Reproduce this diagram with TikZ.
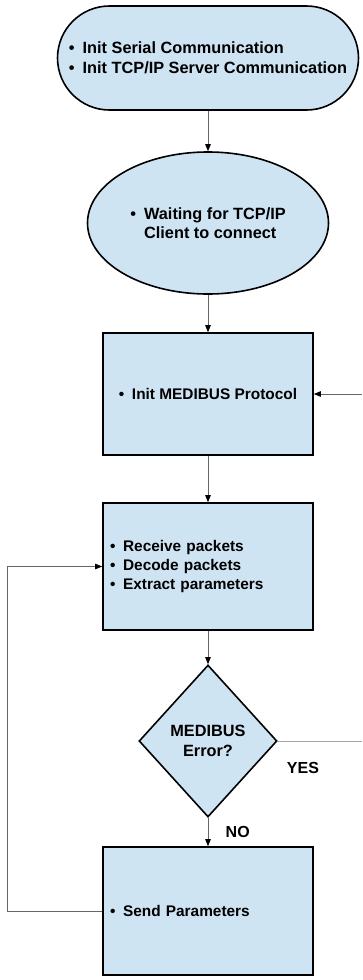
\documentclass[tikz,border=0pt]{standalone}
\usepackage{fontspec}
\setmainfont{Liberation Sans}
\usetikzlibrary{shapes.geometric,arrows.meta}
\definecolor{boxblue}{RGB}{207,228,243}
\newcommand{\bul}{\makebox[0.85em][l]{\textbullet}}

\begin{document}
\begin{tikzpicture}[x=1pt, y=-1pt,
  blk/.style={draw=black, line width=1.6pt, fill=boxblue, font=\fontsize{16.3}{19.5}\selectfont\bfseries, align=left},
  proc/.style={blk, rectangle, minimum width=210pt, font=\fontsize{15.4}{18.7}\selectfont\bfseries},
  flow/.style={draw=gray!80!black, line width=0.8pt, -{Triangle[length=7pt,width=5.5pt,color=black]}},
  lbl/.style={font=\fontsize{16}{19}\selectfont\bfseries}]
\useasboundingbox (0,0) rectangle (362,980);

\node[blk, rounded corners=52pt, minimum width=301pt, minimum height=104pt] (start) at (208,58)
  {\bul Init Serial Communication\\\bul Init TCP/IP Server Communication};
\node[blk, ellipse, minimum width=241pt, minimum height=142pt] (wait) at (208,223)
  {\bul Waiting for TCP/IP\\\hspace*{0.85em}Client to connect};
\node[proc, minimum height=122pt] (init) at (208,394) {\bul Init MEDIBUS Protocol};
\node[proc, minimum height=127pt, text width=196pt] (recv) at (208,566.5)
  {\bul Receive packets\\\bul Decode packets\\\bul Extract parameters};
\node[blk, diamond, minimum width=138pt, minimum height=152pt, inner sep=0pt, align=center] (err) at (208,741)
  {MEDIBUS\\Error?};
\node[proc, minimum height=128pt, text width=196pt] (send) at (208,911) {\bul Send Parameters};

\draw[flow] (start) -- (wait);
\draw[flow] (wait) -- (init);
\draw[flow] (init) -- (recv);
\draw[flow] (recv) -- (err);
\draw[flow] (err) -- node[lbl, right=14pt] (no) {NO} (send);

\coordinate (yesend) at (362,741);
\draw[draw=gray!70, line width=0.8pt] (err.east) -- (yesend);
\node[lbl] (yes) at (303,768) {YES};

\coordinate (back) at (362,394);
\draw[flow] (back) -- (init.east);

\coordinate (loop) at (7,911);
\draw[flow] (send.west) -- (loop) |- (recv.west);

\end{tikzpicture}
\end{document}
